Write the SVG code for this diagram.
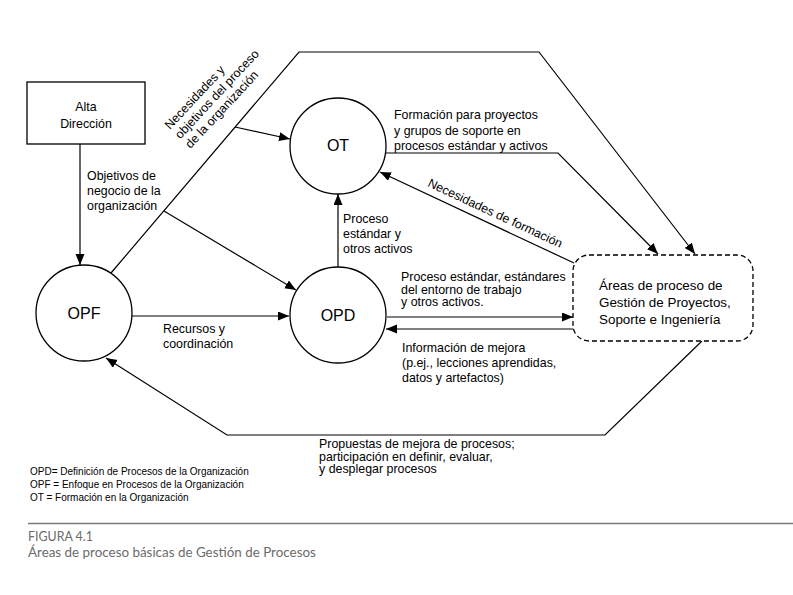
<svg xmlns="http://www.w3.org/2000/svg" width="793" height="595" viewBox="0 0 793 595">
<defs>
<marker id="ah" markerUnits="userSpaceOnUse" markerWidth="12" markerHeight="10" refX="11" refY="4.5" orient="auto">
<path d="M0,0 L11,4.5 L0,9 Z" fill="#000"/>
</marker>
<style>
text{font-family:"Liberation Sans",Arial,sans-serif;fill:#000}
.t{font-size:12.4px}
.n{font-size:16px;text-anchor:middle}
.b{font-size:13.4px}
.lg{font-size:10px}
.cap{font-family:Lato,"Open Sans",sans-serif;fill:#6b6b6b}
.c{fill:#fff;stroke:#000;stroke-width:1.3}
.e{fill:none;stroke:#000;stroke-width:1.2}
.a{marker-end:url(#ah)}
</style>
</defs>
<rect width="793" height="595" fill="#fff"/>
<g id="connectors">
<path class="e a" d="M80,144 V265"/>
<path class="e a" d="M132,316 H289"/>
<path class="e a" d="M111,273 L299,52 L539,52 L695,254"/>
<path class="e a" d="M235,127 L290,139"/>
<path class="e a" d="M164,211 L296,290"/>
<path class="e a" d="M338,267 V194"/>
<path class="e a" d="M386,153 H558 L658,254"/>
<path class="e a" d="M574,263 L380,172"/>
<path class="e a" d="M387,317 H573"/>
<path class="e a" d="M573,329 H386"/>
<path class="e a" d="M702,341 L605,435 L227,435 L106,358"/>
</g>
<g id="alta">
<rect x="27" y="82" width="118" height="62" class="c"/>
<text class="t" x="86" y="111" text-anchor="middle">Alta</text>
<text class="t" x="86" y="128" text-anchor="middle">Dirección</text>
</g>
<g id="opf">
<circle cx="84" cy="313" r="48" class="c"/>
<text class="n" x="84" y="319">OPF</text>
</g>
<g id="ot">
<circle cx="338" cy="146" r="48" class="c"/>
<text class="n" x="338" y="151">OT</text>
</g>
<g id="opd">
<circle cx="338" cy="315" r="48" class="c"/>
<text class="n" x="338" y="321">OPD</text>
</g>
<g id="areas">
<rect x="573" y="255" width="180" height="86" rx="16" ry="16" fill="#fff" stroke="#000" stroke-width="1.3" stroke-dasharray="5,3"/>
<text class="b" x="599" y="290">Áreas de proceso de</text>
<text class="b" x="599" y="307">Gestión de Proyectos,</text>
<text class="b" x="599" y="324">Soporte e Ingeniería</text>
</g>
<g id="labels">
<text class="t" x="87" y="180">Objetivos de</text>
<text class="t" x="87" y="195">negocio de la</text>
<text class="t" x="87" y="210">organización</text>
<g transform="translate(170,130) rotate(-47)">
<text class="t" x="0" y="0">Necesidades y</text>
<text class="t" x="0" y="14">objetivos del proceso</text>
<text class="t" x="0" y="28">de la organización</text>
</g>
<text class="t" x="394" y="119">Formación para proyectos</text>
<text class="t" x="394" y="135">y grupos de soporte en</text>
<text class="t" x="394" y="150">procesos estándar y activos</text>
<text class="t" transform="translate(427,186) rotate(25)">Necesidades de formación</text>
<text class="t" x="343" y="223">Proceso</text>
<text class="t" x="343" y="238">estándar y</text>
<text class="t" x="343" y="253">otros activos</text>
<text class="t" x="163" y="333">Recursos y</text>
<text class="t" x="163" y="348">coordinación</text>
<text class="t" x="401" y="281">Proceso estándar, estándares</text>
<text class="t" x="401" y="293.5">del entorno de trabajo</text>
<text class="t" x="401" y="306">y otros activos.</text>
<text class="t" x="402" y="352">Información de mejora</text>
<text class="t" x="402" y="367">(p.ej., lecciones aprendidas,</text>
<text class="t" x="402" y="382">datos y artefactos)</text>
<text class="t" x="319" y="448">Propuestas de mejora de procesos;</text>
<text class="t" x="319" y="460.5">participación en definir, evaluar,</text>
<text class="t" x="319" y="473">y desplegar procesos</text>
</g>
<g id="legend">
<text class="lg" x="30" y="475">OPD= Definición de Procesos de la Organización</text>
<text class="lg" x="30" y="488">OPF = Enfoque en Procesos de la Organización</text>
<text class="lg" x="30" y="501">OT = Formación en la Organización</text>
</g>
<g id="caption">
<line x1="28" y1="523.5" x2="793" y2="523.5" stroke="#7a7a7a" stroke-width="1.6"/>
<text class="cap" x="28" y="541" font-size="12.4">FIGURA 4.1</text>
<text class="cap" x="28" y="557" font-size="13.4">Áreas de proceso básicas de Gestión de Procesos</text>
</g>
</svg>
